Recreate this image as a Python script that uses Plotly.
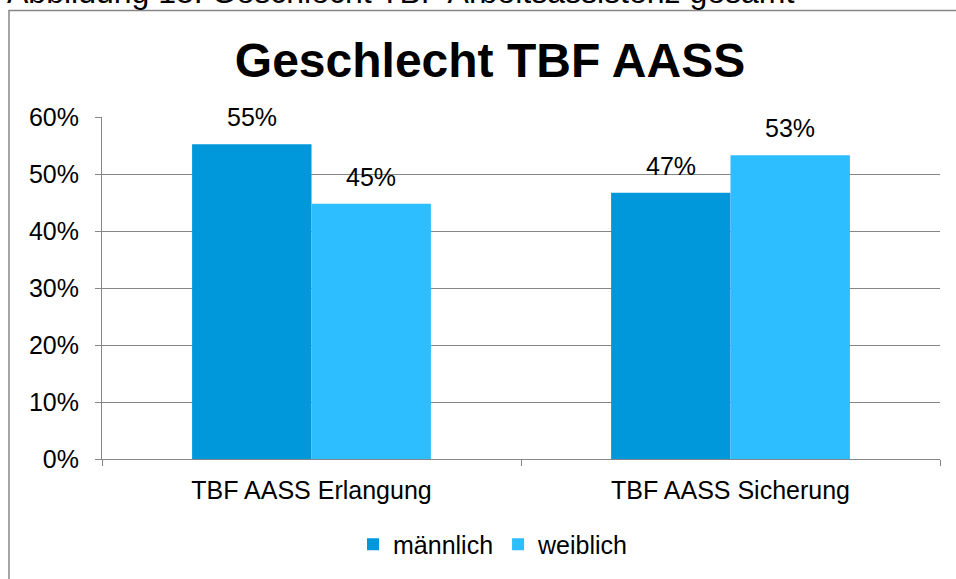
import plotly.graph_objects as go

# Daten
kategorien = ["TBF AASS Erlangung", "TBF AASS Sicherung"]
maennlich = [55.2, 46.7]
weiblich = [44.8, 53.3]
y_ticks = [0, 10, 20, 30, 40, 50, 60]
y_ticktext = ["0%", "10%", "20%", "30%", "40%", "50%", "60%"]

FONT = "Liberation Sans, Arial, sans-serif"
GRAU = "#868686"
BARGAP = 0.43
PLOT_W = 956 - 102 - 16
PLOT_H = 579 - 117 - 118

fig = go.Figure()
fig.add_trace(go.Bar(
    x=kategorien, y=maennlich, name="männlich",
    marker=dict(color="#0098DA", line=dict(width=0)),
))
fig.add_trace(go.Bar(
    x=kategorien, y=weiblich, name="weiblich",
    marker=dict(color="#2DBEFF", line=dict(width=0)),
))

# Datenbeschriftungen über den Balken (etwas abgesetzt wie in Excel)
versatz = PLOT_W / len(kategorien) * (1 - BARGAP) / 4
for werte, richtung in [(maennlich, -1), (weiblich, 1)]:
    for kat, wert in zip(kategorien, werte):
        fig.add_annotation(x=kat, y=wert, xref="x", yref="y",
                           text=f"{wert:.0f}%", showarrow=False,
                           xshift=richtung * versatz, yshift=27, yanchor="middle",
                           font=dict(size=25, color="black", family=FONT))

fig.update_layout(
    width=956, height=579,
    margin=dict(l=102, r=16, t=117, b=118),
    paper_bgcolor="white", plot_bgcolor="white",
    font=dict(family=FONT, size=25, color="black"),
    barmode="group", bargap=BARGAP, bargroupgap=0,
    showlegend=True,
    legend=dict(orientation="h", x=(493 - 102) / PLOT_W, xanchor="center",
                y=(461 - 547) / PLOT_H, yanchor="middle",
                font=dict(size=25), itemwidth=30, tracegroupgap=0),
    title=dict(text="<b>Geschlecht TBF AASS</b>", x=490 / 956, xanchor="center",
               y=1 - 60 / 579, yanchor="middle", font=dict(size=48, family=FONT)),
)

fig.update_yaxes(
    range=[0, 60], tickvals=y_ticks, ticktext=y_ticktext,
    showgrid=True, gridcolor=GRAU, gridwidth=1,
    showline=True, linecolor=GRAU, linewidth=1,
    ticks="outside", ticklen=6, tickcolor=GRAU, zeroline=False,
    ticklabelstandoff=11,
)
fig.update_xaxes(
    showline=True, linecolor=GRAU, linewidth=1,
    ticks="outside", ticklen=6, tickcolor=GRAU, tickson="boundaries",
    showgrid=False, ticklabelstandoff=9,
)

# Rahmen des Diagramms
fig.add_shape(type="rect", xref="paper", yref="paper",
              x0=(9 - 102) / PLOT_W, x1=(975 - 102) / PLOT_W,
              y0=(461 - 600) / PLOT_H, y1=(461 - 10) / PLOT_H,
              line=dict(color=GRAU, width=1.5), fillcolor="rgba(0,0,0,0)", layer="below")

# abgeschnittene Bildunterschrift oben
fig.add_annotation(text="Abbildung 18: Geschlecht TBF Arbeitsassistenz gesamt",
                   xref="paper", yref="paper", x=(5 - 102) / PLOT_W, xanchor="left",
                   y=(461 - 11) / PLOT_H, yanchor="bottom", showarrow=False,
                   font=dict(size=32, family=FONT, color="black"))

fig.write_html("out.html", config={"displayModeBar": False},
               post_script="document.body.style.margin='0px';")
